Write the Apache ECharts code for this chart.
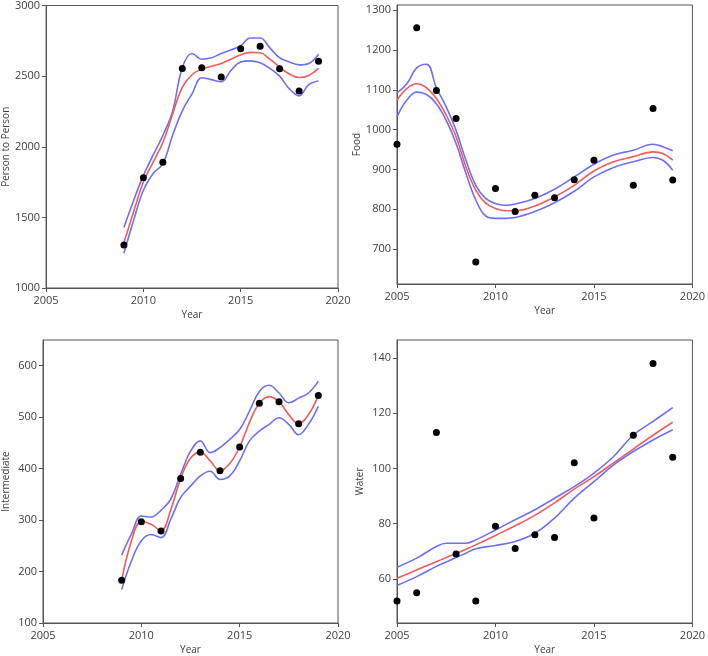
<!DOCTYPE html>
<html><head><meta charset="utf-8">
<script src="https://cdn.jsdelivr.net/npm/echarts@6/dist/echarts.min.js"></script>
<style>html,body{margin:0;padding:0;background:#fff}#c{width:708px;height:656px}</style>
</head><body><div id="c"></div>
<script>
// ---------- Panel 1: Person to Person ----------
const p2pYears = [2009,2010,2011,2012,2013,2014,2015,2016,2017,2018,2019];
const p2pValues = [1305,1781,1891,2554,2559,2494,2693,2712,2552,2395,2606];
const p2pCurveX = [2009,2009.5,2010,2010.5,2011,2011.5,2012,2012.5,2013,2013.5,2014,2014.5,2015,2015.5,2016,2016.5,2017,2017.5,2018,2018.5,2019];
const p2pFit   = [1320,1540,1750,1890,2030,2230,2420,2510,2550,2570,2590,2620,2650,2668,2665,2620,2565,2515,2490,2505,2555];
const p2pUpper = [1429,1620,1797,1940,2080,2250,2560,2660,2620,2630,2660,2685,2715,2770,2770,2700,2630,2600,2580,2590,2655];
const p2pLower = [1246,1480,1692,1810,1880,2080,2254,2375,2489,2475,2460,2540,2600,2608,2594,2555,2500,2410,2360,2440,2465];
const p2pTicks = [1000,1500,2000,2500,3000];

// ---------- Panel 2: Food ----------
const foodYears = [2005,2006,2007,2008,2009,2010,2011,2012,2013,2014,2015,2017,2018,2019];
const foodValues = [963,1256,1098,1028,667,852,794,835,829,874,923,860,1053,873];
const foodCurveX = [2005,2005.5,2006,2006.5,2007,2007.5,2008,2008.5,2009,2009.5,2010,2010.5,2011,2012,2013,2014,2015,2016,2017,2018,2018.5,2019];
const foodFit   = [1074,1103,1115,1105,1078,1036,982,906,848,815,802,796,796,808,831,860,896,919,932,944,940,923];
const foodUpper = [1092,1115,1155,1164,1105,1057,998,923,860,827,814,810,813,827,850,881,913,936,948,963,957,947];
const foodLower = [1032,1074,1094,1088,1065,1023,965,890,823,783,777,777,779,794,816,845,881,905,919,930,923,898];
const foodTicks = [700,800,900,1000,1100,1200,1300];

// ---------- Panel 3: Intermediate ----------
const intYears = [2009,2010,2011,2012,2013,2014,2015,2016,2017,2018,2019];
const intValues = [183,297,279,381,432,396,442,527,530,487,542];
const intCurveX = [2009,2009.5,2010,2010.5,2011,2011.5,2012,2012.5,2013,2013.5,2014,2014.5,2015,2015.5,2016,2016.5,2017,2017.5,2018,2018.5,2019];
const intFit   = [183,260,297,292,279,320,381,420,432,415,396,410,442,490,527,540,530,505,487,505,542];
const intUpper = [232,273,308,306,319,341,389,434,454,431,441,457,476,512,550,562,547,528,537,547,570];
const intLower = [165,221,260,272,266,302,344,366,386,395,379,386,415,454,473,486,499,486,466,486,521];
const intTicks = [100,200,300,400,500,600];

// ---------- Panel 4: Water ----------
const waterYears = [2005,2006,2007,2008,2009,2010,2011,2012,2013,2014,2015,2017,2018,2019];
const waterValues = [52,55,113,69,52,79,71,76,75,102,82,112,138,104];
const waterCurveX = [2005,2006,2007,2007.5,2008,2008.5,2009,2010,2011,2012,2013,2014,2015,2016,2017,2018,2019];
const waterFit   = [60.2,63.2,66.2,67.7,69.2,70.7,72.3,75.7,79.2,83,87.5,92.5,97,102,107,112,116.7];
const waterUpper = [64.2,67.5,71.7,72.9,72.9,72.9,74.1,77.7,81.4,85,89.2,93.4,98.3,104.3,112.1,117,122];
const waterLower = [57.6,60.8,64.5,66.1,67.7,69.3,70.9,72.1,73.5,76.5,82,89.2,95.2,101.3,106.1,110.3,114];
const waterTicks = [60,80,100,120,140];

const xTicks = [2005,2010,2015,2020];

const pairs = (xs, ys) => xs.map((x, i) => [x, ys[i]]);
const plain = v => String(v);
const FONT = 'Open Sans';
const AXC = '#555';
const TXT = '#404040';
const BLUE = '#6f6ff5';
const RED = '#f25b5b';

const panels = [
  {name:'Person to Person', grid:{left:37, top:4, width:301, height:284}, ymin:1000, ymax:3000, yticks:p2pTicks,
   px:p2pYears, py:p2pValues, cx:p2pCurveX, fit:p2pFit, up:p2pUpper, lo:p2pLower},
  {name:'Food', grid:{left:397, top:5, width:299, height:279}, ymin:612, ymax:1313, yticks:foodTicks,
   px:foodYears, py:foodValues, cx:foodCurveX, fit:foodFit, up:foodUpper, lo:foodLower},
  {name:'Intermediate', grid:{left:37, top:340, width:301, height:284}, ymin:100, ymax:650, yticks:intTicks,
   px:intYears, py:intValues, cx:intCurveX, fit:intFit, up:intUpper, lo:intLower},
  {name:'Water', grid:{left:397, top:340, width:299, height:283}, ymin:44, ymax:146.5, yticks:waterTicks,
   px:waterYears, py:waterValues, cx:waterCurveX, fit:waterFit, up:waterUpper, lo:waterLower}
];

const option = {animation:false, backgroundColor:'#fff', grid:[], xAxis:[], yAxis:[], series:[]};
panels.forEach((p, i) => {
  option.grid.push(Object.assign({show:true, borderColor:AXC, borderWidth:1, backgroundColor:'transparent'}, p.grid));
  option.xAxis.push({
    type:'value', gridIndex:i, min:2005, max:2020,
    name:'Year', nameLocation:'middle', nameGap:22,
    nameTextStyle:{color:TXT, fontFamily:FONT, fontSize:10},
    axisLine:{show:true, lineStyle:{color:AXC, width:1}},
    axisTick:{show:true, length:4, lineStyle:{color:AXC}, customValues:xTicks},
    axisLabel:{color:TXT, fontFamily:FONT, fontSize:11, margin:7, customValues:xTicks, formatter:plain},
    splitLine:{show:false}
  });
  option.yAxis.push({
    type:'value', gridIndex:i, min:p.ymin, max:p.ymax,
    name:p.name, nameLocation:'middle', nameGap:32, nameRotate:90,
    nameTextStyle:{color:TXT, fontFamily:FONT, fontSize:10},
    axisLine:{show:true, lineStyle:{color:AXC, width:1}},
    axisTick:{show:true, length:4, lineStyle:{color:AXC}, customValues:p.yticks},
    axisLabel:{color:TXT, fontFamily:FONT, fontSize:11, margin:6, customValues:p.yticks, formatter:plain},
    splitLine:{show:false}
  });
  const lineBase = {type:'line', xAxisIndex:i, yAxisIndex:i, showSymbol:false, symbol:'none', smooth:0.4, silent:true};
  option.series.push(Object.assign({}, lineBase, {data:pairs(p.cx, p.up), lineStyle:{color:BLUE, width:1.6}}));
  option.series.push(Object.assign({}, lineBase, {data:pairs(p.cx, p.lo), lineStyle:{color:BLUE, width:1.6}}));
  option.series.push(Object.assign({}, lineBase, {data:pairs(p.cx, p.fit), lineStyle:{color:RED, width:1.6}}));
  option.series.push({type:'scatter', xAxisIndex:i, yAxisIndex:i, data:pairs(p.px, p.py),
    symbol:'circle', symbolSize:7, itemStyle:{color:'#000', opacity:1}, silent:true, z:5});
});

const chart = echarts.init(document.getElementById('c'), null, {renderer:'canvas'});
chart.setOption(option);
</script>
</body></html>
